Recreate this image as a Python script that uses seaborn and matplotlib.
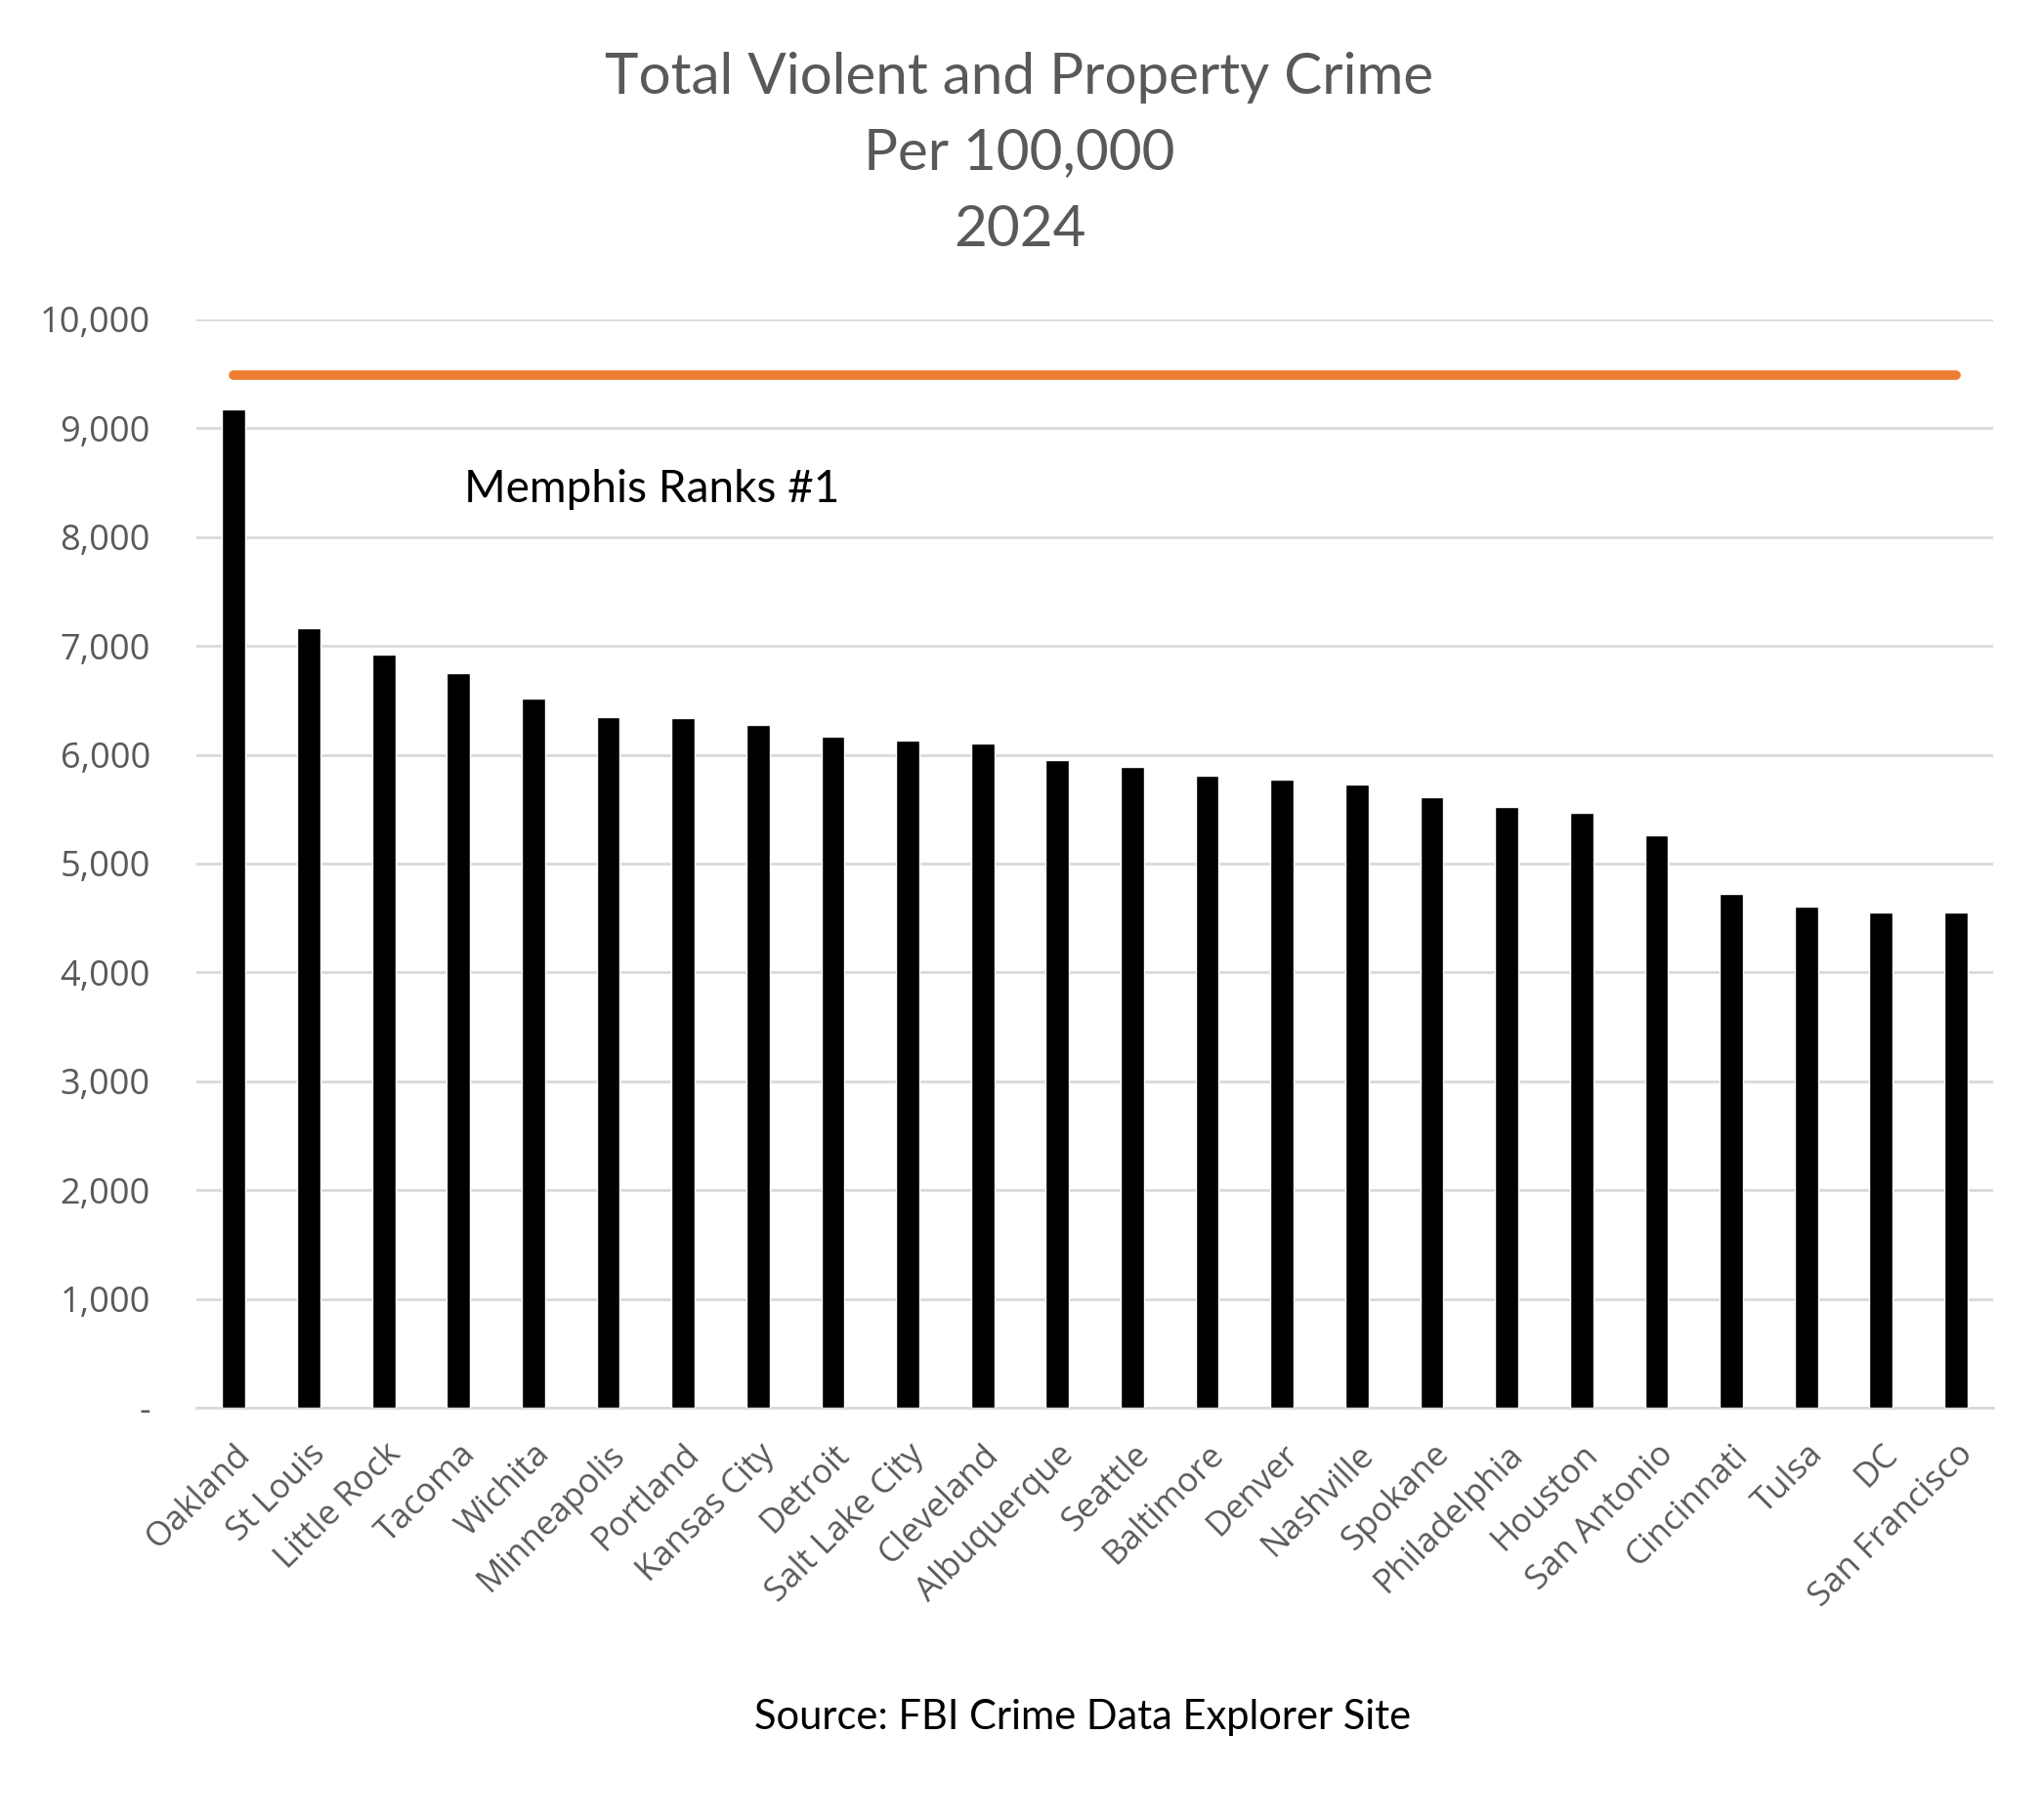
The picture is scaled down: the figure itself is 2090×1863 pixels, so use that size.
import numpy as np
import pandas as pd
import seaborn as sns
import matplotlib
matplotlib.use("Agg")
from matplotlib import pyplot as plt
from matplotlib.ticker import FuncFormatter

cities = ["Oakland", "St Louis", "Little Rock", "Tacoma", "Wichita", "Minneapolis",
          "Portland", "Kansas City", "Detroit", "Salt Lake City", "Cleveland",
          "Albuquerque", "Seattle", "Baltimore", "Denver", "Nashville", "Spokane",
          "Philadelphia", "Houston", "San Antonio", "Cincinnati", "Tulsa", "DC",
          "San Francisco"]
crime_rate = [9175, 7160, 6920, 6750, 6515, 6345, 6335, 6275, 6165, 6130, 6105,
              5950, 5890, 5805, 5775, 5725, 5610, 5520, 5470, 5260, 4720, 4605,
              4550, 4550]
memphis_rate = 9490
y_ticks = [0, 1000, 2000, 3000, 4000, 5000, 6000, 7000, 8000, 9000, 10000]
title_lines = ["Total Violent and Property Crime", "Per 100,000", "2024"]

sns.set_theme(style="white")
plt.rcParams['font.family'] = ['Lato', 'DejaVu Sans']

gray = "#595959"
tick_font = ['Open Sans', 'DejaVu Sans']

df = pd.DataFrame({"city": cities, "rate": crime_rate})
df["pos"] = np.arange(len(cities))
df["memphis"] = memphis_rate

fig = plt.figure(figsize=(20.9, 18.63), dpi=100)
ax = fig.add_axes([0.0962, 0.2265, 0.880, 0.598])

sns.barplot(data=df, x="city", y="rate", color="black", width=0.31,
            saturation=1, ax=ax, zorder=3)
sns.lineplot(data=df, x="pos", y="memphis", color="#ED7D31", linewidth=7,
             solid_capstyle="round", ax=ax, zorder=4)

ax.set_xlim(-0.5, len(cities) - 0.5)
ax.set_ylim(0, 10000)
ax.set_yticks(y_ticks)
ax.yaxis.set_major_formatter(FuncFormatter(lambda v, p: "-" if v == 0 else f"{int(v):,}"))
ax.grid(axis="y", color="#d9d9d9", linewidth=2, zorder=0)
ax.grid(axis="x", visible=False)
for s in ["top", "right", "left"]:
    ax.spines[s].set_visible(False)
ax.spines["bottom"].set_color("#d9d9d9")
ax.spines["bottom"].set_linewidth(2)
ax.set_xlabel("")
ax.set_ylabel("")
ax.tick_params(axis="y", labelsize=26, labelcolor=gray, length=0, pad=34)
ax.tick_params(axis="x", labelsize=25, labelcolor=gray, length=0, pad=22)
for lab in ax.get_yticklabels() + ax.get_xticklabels():
    lab.set_family(tick_font)
plt.setp(ax.get_xticklabels(), rotation=45, ha="right", rotation_mode="anchor")

ax.text(5.58, 8320, "Memphis Ranks #1", fontsize=33, color="black",
        ha="center", va="baseline")

for y, line in zip([0.9485, 0.9071, 0.8647], title_lines):
    fig.text(0.4993, y, line, fontsize=42, color=gray, ha="center", va="baseline")

fig.text(0.530, 0.0499, "Source: FBI Crime Data Explorer Site", fontsize=30,
         color="black", ha="center", va="baseline")

fig.savefig("out.png", dpi=100)
